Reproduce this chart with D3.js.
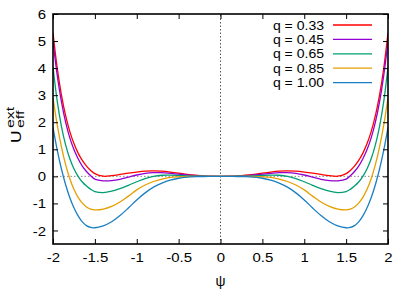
<!DOCTYPE html>
<html>
<head>
<meta charset="utf-8">
<script src="https://cdn.jsdelivr.net/npm/d3@7"></script>
<style>
  body { margin: 0; background: #fff; }
  text { font-family: "Liberation Sans", Arial, sans-serif; fill: #000; }
</style>
</head>
<body>
<div id="container"></div>
<script>
// psi grid (right half only, the curves are symmetric and mirrored to the left)
var psi = [0, 0.1, 0.2, 0.3, 0.4, 0.5, 0.6, 0.7, 0.8, 0.9, 1.0, 1.1, 1.2, 1.3, 1.4, 1.5,
           1.55, 1.6, 1.65, 1.7, 1.75, 1.8, 1.85, 1.9, 1.95, 2.0];

var u033 = [0, 0.003, 0.015, 0.04, 0.075, 0.12, 0.16, 0.19, 0.2, 0.19, 0.16, 0.12, 0.07, 0.025, 0.005, 0.1,
            0.22, 0.38, 0.59, 0.86, 1.21, 1.66, 2.25, 3.02, 4.01, 5.3];
var u045 = [0, 0.002, 0.01, 0.025, 0.05, 0.08, 0.11, 0.135, 0.14, 0.11, 0.05, -0.03, -0.11, -0.16, -0.165, -0.1,
            0.02, 0.18, 0.38, 0.65, 0.99, 1.43, 2.01, 2.77, 3.75, 5.0];
var u065 = [0, 0, 0.003, 0.01, 0.02, 0.035, 0.045, 0.04, 0.0, -0.08, -0.2, -0.33, -0.45, -0.55, -0.6, -0.56,
            -0.48, -0.36, -0.21, 0.0, 0.28, 0.66, 1.17, 1.86, 2.79, 4.05];
var u085 = [0, 0, 0, -0.002, -0.006, -0.015, -0.04, -0.1, -0.19, -0.32, -0.5, -0.73, -0.95, -1.11, -1.21, -1.24,
            -1.21, -1.13, -0.99, -0.78, -0.48, -0.08, 0.44, 1.1, 1.91, 2.9];
var u100 = [0, -0.001, -0.005, -0.012, -0.03, -0.07, -0.14, -0.25, -0.4, -0.61, -0.87, -1.17, -1.45, -1.68, -1.83, -1.9,
            -1.89, -1.82, -1.68, -1.46, -1.16, -0.78, -0.3, 0.28, 0.98, 1.8];

var qLabels = ["q = 0.33", "q = 0.45", "q = 0.65", "q = 0.85", "q = 1.00"];
var colors = ["#ff0000", "#9400d3", "#009e73", "#e69f00", "#1a7fc1"];
var series = [u033, u045, u065, u085, u100];

var xTicks = [-2, -1.5, -1, -0.5, 0, 0.5, 1, 1.5, 2];
var yTicks = [-2, -1, 0, 1, 2, 3, 4, 5, 6];

var width = 415;
var height = 291;
var margin = {left: 53, top: 14, right: 27, bottom: 47};
var stretch = 1.15;   // the reference font is a bit wider than Liberation Sans

const svg = d3.select("#container")
              .append("svg")
              .attr("width", width)
              .attr("height", height);

var xScale = d3.scaleLinear()
               .domain([-2, 2])
               .range([margin.left, width - margin.right]);

var yScale = d3.scaleLinear()
               .domain([-2.5, 6])
               .range([height - margin.bottom, margin.top]);

svg.append("clipPath")
   .attr("id", "clip")
   .append("rect")
   .attr("x", margin.left)
   .attr("y", margin.top)
   .attr("width", width - margin.left - margin.right)
   .attr("height", height - margin.top - margin.bottom);

// zero lines
svg.append("line")
   .attr("x1", xScale(-2)).attr("x2", xScale(2))
   .attr("y1", yScale(0)).attr("y2", yScale(0))
   .attr("stroke", "#888").attr("stroke-width", 1)
   .attr("stroke-dasharray", "1.5,2");

svg.append("line")
   .attr("x1", xScale(0)).attr("x2", xScale(0))
   .attr("y1", yScale(-2.5)).attr("y2", yScale(6))
   .attr("stroke", "#555").attr("stroke-width", 1)
   .attr("stroke-dasharray", "1.5,2");

// curves
var line = d3.line()
             .x(d => xScale(d[0]))
             .y(d => yScale(d[1]))
             .curve(d3.curveCatmullRom.alpha(0.5));

series.forEach(function (s, k) {
    var pts = [];
    for (var i = psi.length - 1; i > 0; i--) pts.push([-psi[i], s[i]]);
    for (var j = 0; j < psi.length; j++) pts.push([psi[j], s[j]]);
    svg.append("path")
       .datum(pts)
       .attr("clip-path", "url(#clip)")
       .attr("fill", "none")
       .attr("stroke", colors[k])
       .attr("stroke-width", 1.3)
       .attr("d", line);
});

// axes (gnuplot style: inward ticks, mirrored on top and right)
var tick = 5;
var fmt = d => String(d);
var xAxis = d3.axisBottom(xScale).tickValues(xTicks).tickSizeInner(-tick).tickSizeOuter(0)
              .tickPadding(9).tickFormat(fmt);
var yAxis = d3.axisLeft(yScale).tickValues(yTicks).tickSizeInner(-tick).tickSizeOuter(0)
              .tickPadding(7).tickFormat(fmt);

var gx = svg.append("g")
   .attr("transform", "translate(0," + (height - margin.bottom) + ")")
   .call(xAxis);
var gy = svg.append("g")
   .attr("transform", "translate(" + margin.left + ",0)")
   .call(yAxis);
svg.append("g")
   .attr("transform", "translate(0," + margin.top + ")")
   .call(d3.axisTop(xScale).tickValues(xTicks).tickSizeInner(-tick).tickSizeOuter(0).tickFormat(""));
svg.append("g")
   .attr("transform", "translate(" + (width - margin.right) + ",0)")
   .call(d3.axisRight(yScale).tickValues(yTicks).tickSizeInner(-tick).tickSizeOuter(0).tickFormat(""));

svg.selectAll(".domain").remove();
svg.selectAll(".tick line").attr("stroke", "#000").attr("stroke-width", 1);
svg.selectAll(".tick text")
   .style("font-family", "Liberation Sans, Arial, sans-serif")
   .style("font-size", "13px")
   .attr("fill", "#000");
gx.selectAll(".tick text").attr("transform", "scale(" + stretch + ",1)");
gy.selectAll(".tick text")
  .attr("x", -7 / stretch)
  .attr("dy", "0.35em")
  .attr("transform", "scale(" + stretch + ",1)");

// frame
svg.append("rect")
   .attr("x", margin.left)
   .attr("y", margin.top)
   .attr("width", width - margin.left - margin.right)
   .attr("height", height - margin.top - margin.bottom)
   .attr("fill", "none")
   .attr("stroke", "#000")
   .attr("stroke-width", 1.6);

// axis labels
svg.append("text")
   .attr("x", xScale(0))
   .attr("y", 286)
   .attr("text-anchor", "middle")
   .style("font-size", "14px")
   .text("ψ");

svg.append("text")
   .attr("transform", "translate(21,143) rotate(-90) scale(1.15,1)")
   .style("font-size", "15px")
   .text("U");
svg.append("text")
   .attr("transform", "translate(14,128) rotate(-90) scale(1.45,1)")
   .style("font-size", "11px")
   .text("ext");
svg.append("text")
   .attr("transform", "translate(23.5,128) rotate(-90) scale(1.45,1)")
   .style("font-size", "11px")
   .text("eff");

// legend
var legend = svg.append("g");
qLabels.forEach(function (lab, k) {
    var yy = 25 + k * 14.4;
    legend.append("text")
          .attr("transform", "translate(324," + yy + ") scale(1.08,1)")
          .attr("dy", "0.35em")
          .attr("text-anchor", "end")
          .style("font-size", "13px")
          .text(lab);
    legend.append("line")
          .attr("x1", 333).attr("x2", 372)
          .attr("y1", yy).attr("y2", yy)
          .attr("stroke", colors[k])
          .attr("stroke-width", 1.3);
});
</script>
</body>
</html>
